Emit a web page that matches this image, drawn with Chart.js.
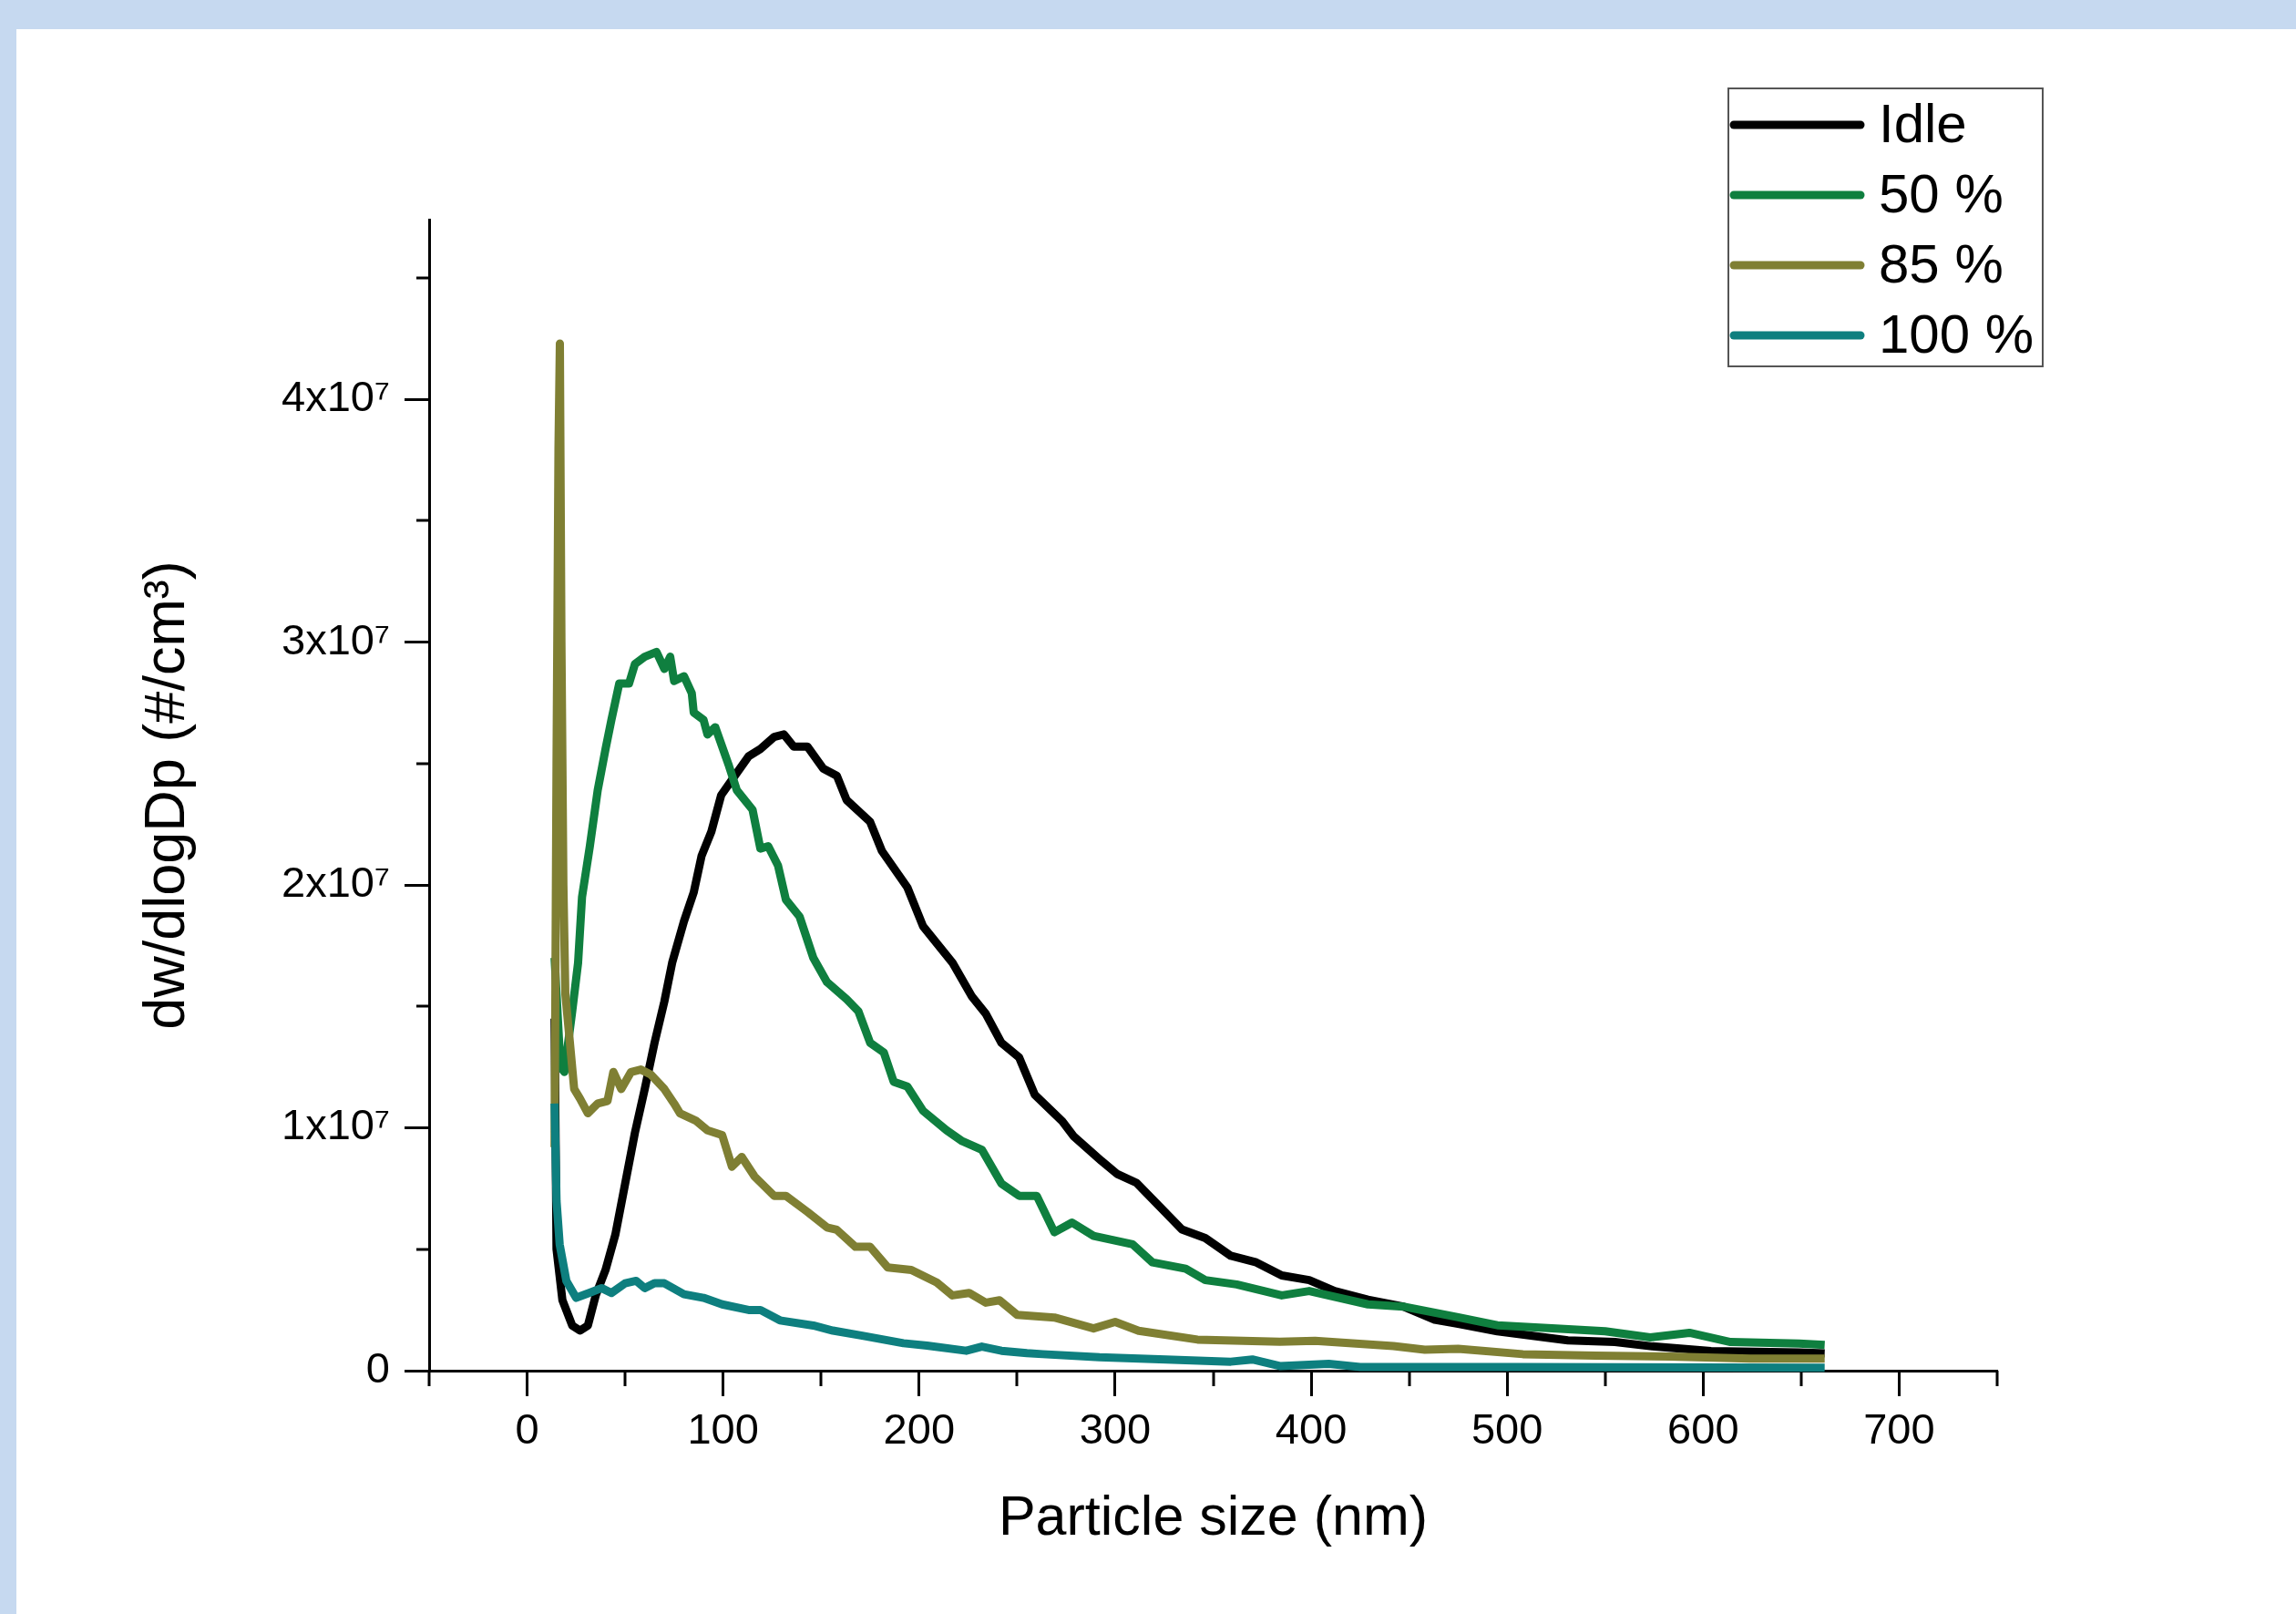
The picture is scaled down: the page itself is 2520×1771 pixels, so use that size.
<!DOCTYPE html>
<html>
<head>
<meta charset="utf-8">
<script src="https://cdn.jsdelivr.net/npm/chart.js@4.4.0/dist/chart.umd.min.js"></script>
<style>
html, body { margin: 0; padding: 0; background: #c6d9f0; overflow: hidden; }
#sheet { position: absolute; left: 18px; top: 32px; right: 0; bottom: 0; background: #fff; }
#myChart { position: absolute; left: 0; top: 0; }
</style>
</head>
<body>
<div id="sheet"></div>
<canvas id="myChart" width="2520" height="1771"></canvas>
<script>
// values, y in units of 10^6 #/cm3
let idleX = [14, 15, 18, 23, 27, 31, 35, 40, 45, 50, 55, 60, 65, 70, 74, 80, 85, 89, 94, 99, 106, 113, 119, 126, 131, 136, 143, 151, 158, 163, 175, 181, 194, 202, 217, 227, 234, 242, 251, 259, 273, 279, 293, 301, 311, 322, 334, 346, 359, 372, 385, 399, 412, 429, 447, 463, 475, 495, 531, 555, 574, 604, 649, 662];
let idleY = [14.5, 5.0, 2.9, 1.86, 1.65, 1.86, 3.1, 4.15, 5.6, 7.7, 9.8, 11.6, 13.5, 15.2, 16.8, 18.5, 19.7, 21.2, 22.2, 23.7, 24.5, 25.3, 25.6, 26.1, 26.2, 25.7, 25.7, 24.8, 24.5, 23.5, 22.6, 21.4, 19.9, 18.3, 16.8, 15.4, 14.7, 13.5, 12.9, 11.36, 10.27, 9.64, 8.64, 8.1, 7.73, 6.82, 5.82, 5.46, 4.73, 4.46, 3.92, 3.73, 3.28, 2.92, 2.64, 2.1, 1.93, 1.62, 1.25, 1.18, 1.0, 0.81, 0.75, 0.71];

let load50X = [14, 15, 17, 19, 23, 26, 28, 32, 36, 40, 43, 47, 52, 55, 60, 66, 70, 73, 75, 80, 84, 85, 90, 92, 96, 103, 107, 115, 119, 123, 128, 132, 139, 146, 153, 163, 169, 175, 182, 187, 194, 202, 214, 222, 232, 242, 251, 260, 269, 278, 289, 309, 319, 336, 346, 362, 385, 399, 429, 447, 475, 495, 525, 550, 573, 593, 614, 649, 662];
let load50Y = [17.0, 15.5, 12.5, 12.3, 14.8, 16.8, 19.5, 21.6, 23.9, 25.6, 26.8, 28.3, 28.3, 29.1, 29.4, 29.6, 28.9, 29.4, 28.4, 28.6, 27.9, 27.1, 26.8, 26.2, 26.5, 24.9, 23.9, 23.1, 21.5, 21.6, 20.8, 19.4, 18.7, 17.0, 16.0, 15.3, 14.8, 13.5, 13.1, 11.9, 11.7, 10.7, 9.9, 9.45, 9.1, 7.7, 7.2, 7.2, 5.7, 6.1, 5.55, 5.2, 4.46, 4.2, 3.73, 3.55, 3.1, 3.28, 2.73, 2.64, 2.2, 1.87, 1.74, 1.62, 1.37, 1.56, 1.18, 1.12, 1.06];

let load85X = [14, 15, 16, 16.7, 17.5, 18.5, 19.5, 21.6, 24, 27, 31, 36, 41, 44, 48, 53, 58, 63, 70, 75, 78, 86, 92, 99.5, 104.5, 109.5, 116, 126, 132, 143, 153, 158, 167.5, 175, 184, 196, 209, 217, 225.5, 234, 241, 250, 269, 289, 300, 312, 342, 384, 402, 442, 458, 475, 508, 545, 583, 624, 662];
let load85Y = [9.2, 25, 38, 42.3, 30, 20, 15.5, 13.7, 11.6, 11.2, 10.6, 11.0, 11.1, 12.3, 11.6, 12.3, 12.4, 12.2, 11.6, 11.0, 10.6, 10.3, 9.9, 9.7, 8.4, 8.8, 8.0, 7.2, 7.2, 6.54, 5.9, 5.8, 5.1, 5.1, 4.25, 4.15, 3.63, 3.1, 3.2, 2.8, 2.9, 2.3, 2.19, 1.74, 2.01, 1.64, 1.28, 1.19, 1.23, 1.01, 0.86, 0.9, 0.68, 0.62, 0.58, 0.5, 0.5];

let load100X = [14, 15, 16.6, 20, 25, 31.6, 38, 43, 50, 55.6, 60, 65, 70, 80, 90, 99.5, 113, 119, 129, 146, 156, 171, 192, 204, 224, 232, 242, 255, 263, 292, 326, 359, 370, 384, 409, 425, 475, 505, 662];
let load100Y = [11.0, 7.0, 5.2, 3.7, 3.0, 3.2, 3.4, 3.2, 3.6, 3.7, 3.4, 3.6, 3.6, 3.15, 3.0, 2.73, 2.5, 2.5, 2.07, 1.86, 1.65, 1.44, 1.13, 1.03, 0.82, 0.99, 0.82, 0.72, 0.68, 0.55, 0.46, 0.37, 0.46, 0.19, 0.28, 0.15, 0.15, 0.15, 0.12];

let seriesNames = ['Idle', '50 %', '85 %', '100 %'];
let seriesColors = ['#000000', '#0f7f3f', '#7f7f33', '#0e7f7f'];

let xTicks = [0, 100, 200, 300, 400, 500, 600, 700];
let xMinor = [-50, 50, 150, 250, 350, 450, 550, 650, 750];
let yTicks = [0, 1e7, 2e7, 3e7, 4e7];
let yMinor = [0.5e7, 1.5e7, 2.5e7, 3.5e7, 4.5e7];

const fontFamily = "'Liberation Sans', Arial, sans-serif";
Chart.defaults.font.family = fontFamily;
Chart.defaults.color = '#000';

const toPoints = (xs, ys) => xs.map((x, i) => ({x: x, y: ys[i] * 1e6}));

// short ticks between the labelled ones
const minorTicks = {
    id: 'minorTicks',
    beforeDatasetsDraw(chart) {
        const ctx = chart.ctx, sx = chart.scales.x, sy = chart.scales.y;
        ctx.save();
        ctx.strokeStyle = '#000';
        ctx.lineWidth = 3;
        ctx.beginPath();
        xMinor.forEach(v => {
            const px = Math.round(sx.getPixelForValue(v));
            ctx.moveTo(px, sx.top);
            ctx.lineTo(px, sx.top + 17);
        });
        yMinor.forEach(v => {
            const py = Math.round(sy.getPixelForValue(v));
            ctx.moveTo(sy.right, py);
            ctx.lineTo(sy.right - 14, py);
        });
        ctx.stroke();
        ctx.restore();
    }
};

// framed legend in the top right corner
const boxLegend = {
    id: 'boxLegend',
    afterDraw(chart) {
        const ctx = chart.ctx;
        ctx.save();
        ctx.fillStyle = '#fff';
        ctx.fillRect(1897, 97, 345, 305);
        ctx.strokeStyle = '#555';
        ctx.lineWidth = 2;
        ctx.strokeRect(1897, 97, 345, 305);
        ctx.font = '60px ' + fontFamily;
        ctx.textBaseline = 'middle';
        ctx.lineCap = 'round';
        chart.data.datasets.forEach((ds, i) => {
            const ly = 137 + i * 77;
            ctx.strokeStyle = ds.borderColor;
            ctx.lineWidth = 9;
            ctx.beginPath();
            ctx.moveTo(1903, ly);
            ctx.lineTo(2042, ly);
            ctx.stroke();
            ctx.fillStyle = '#000';
            ctx.fillText(ds.label, 2062, ly + 2);
        });
        ctx.restore();
    }
};

let chartElement = document.getElementById('myChart').getContext('2d');

let myChart = new Chart(chartElement, {
    type: 'line',
    data: {
        datasets: [
            {label: seriesNames[0], data: toPoints(idleX, idleY), borderColor: seriesColors[0], order: 4},
            {label: seriesNames[1], data: toPoints(load50X, load50Y), borderColor: seriesColors[1], order: 3},
            {label: seriesNames[2], data: toPoints(load85X, load85Y), borderColor: seriesColors[2], order: 2},
            {label: seriesNames[3], data: toPoints(load100X, load100Y), borderColor: seriesColors[3], order: 1}
        ]
    },
    options: {
        responsive: false,
        animation: false,
        clip: false,
        parsing: false,
        elements: {
            line: {borderWidth: 9, tension: 0, fill: false, borderJoinStyle: 'round'},
            point: {radius: 0}
        },
        layout: {padding: {top: 241, right: 328, left: 0, bottom: 0}},
        plugins: {
            legend: {display: false},
            tooltip: {enabled: false}
        },
        scales: {
            x: {
                type: 'linear',
                min: -50,
                max: 750,
                afterBuildTicks: s => { s.ticks = xTicks.map(v => ({value: v})); },
                afterFit: s => { s.height = 267; },
                border: {color: '#000', width: 3},
                grid: {drawOnChartArea: false, tickLength: 28, tickWidth: 3, tickColor: '#000'},
                ticks: {padding: 11, font: {size: 47}, maxRotation: 0, autoSkip: false, color: '#000'},
                title: {display: true, text: 'Particle size (nm)', font: {size: 61}, color: '#000', padding: {top: 0, bottom: 67}}
            },
            y: {
                type: 'linear',
                min: 0,
                max: 4.74e7,
                afterBuildTicks: s => { s.ticks = yTicks.map(v => ({value: v})); },
                afterFit: s => { s.width = 471; },
                border: {color: '#000', width: 3},
                grid: {drawOnChartArea: false, tickLength: 27, tickWidth: 3, tickColor: '#000'},
                ticks: {
                    padding: 16,
                    font: {size: 47},
                    color: '#000',
                    callback: v => v === 0 ? '0' : (v / 1e7) + 'x10\u2077'
                },
                title: {display: true, text: 'dw/dlogDp (#/cm\u00b3)', font: {size: 63}, color: '#000', padding: {top: 147, bottom: 0}}
            }
        }
    },
    plugins: [minorTicks, boxLegend]
});
</script>
</body>
</html>
